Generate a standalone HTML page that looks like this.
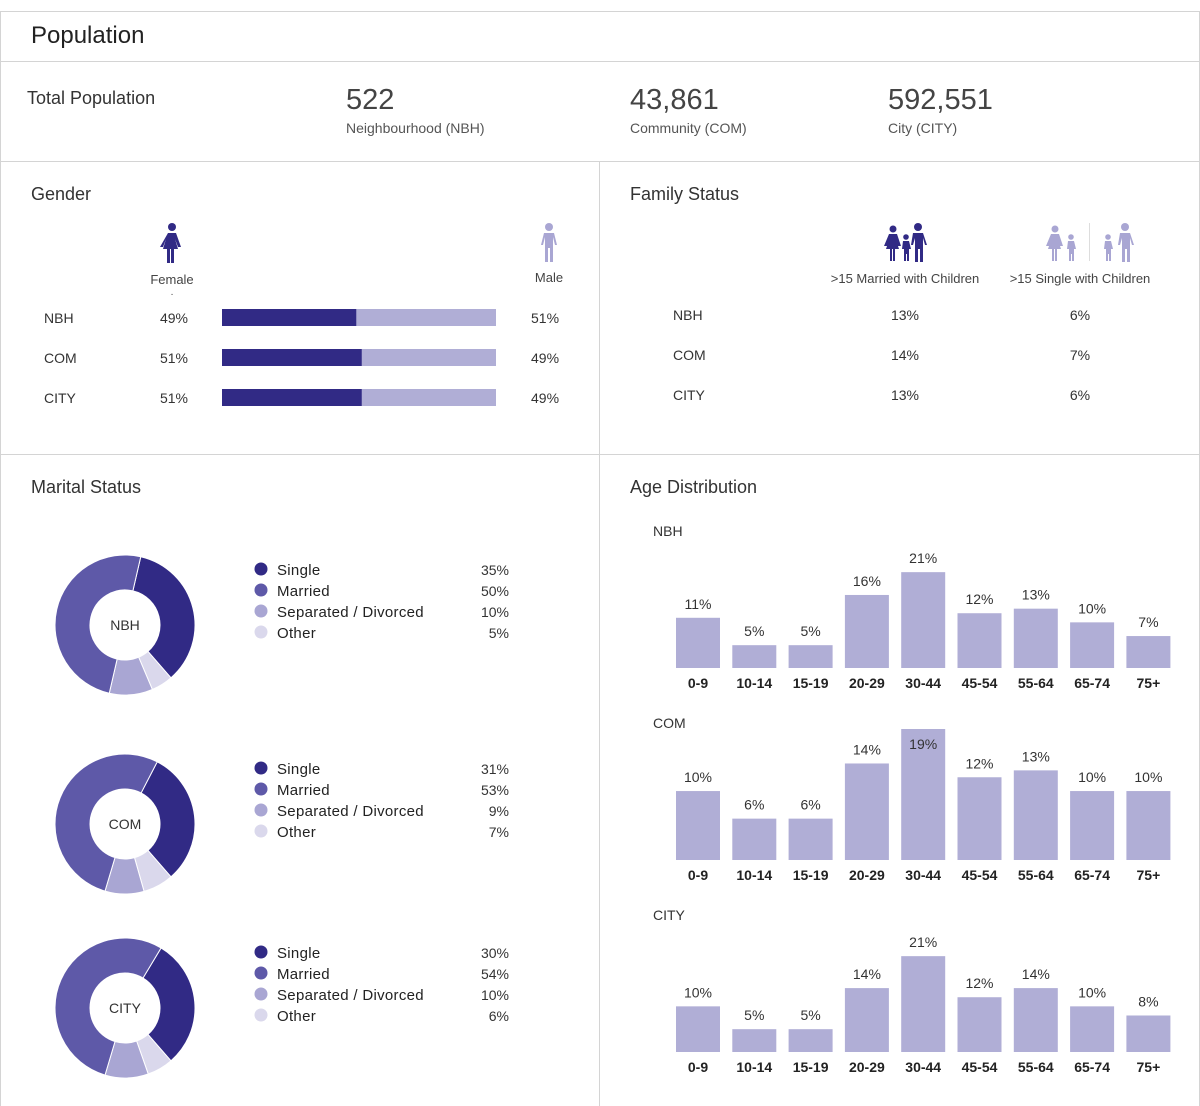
<!DOCTYPE html>
<html><head><meta charset="utf-8"><style>
body{margin:0;width:1200px;height:1106px;background:#fff;font-family:"Liberation Sans",sans-serif;color:#333;position:relative;overflow:hidden}
.abs{position:absolute}
.line{position:absolute;background:#d4d4d4}
.t{position:absolute;white-space:nowrap}
</style></head><body>
<div class="line" style="left:0;top:11px;width:1200px;height:1px"></div>
<div class="line" style="left:0;top:11px;width:1px;height:1095px"></div>
<div class="line" style="left:1199px;top:11px;width:1px;height:1095px"></div>
<div class="line" style="left:0;top:61px;width:1200px;height:1px"></div>
<div class="line" style="left:0;top:161px;width:1200px;height:1px"></div>
<div class="line" style="left:0;top:454px;width:1200px;height:1px"></div>
<div class="line" style="left:599px;top:161px;width:1px;height:945px"></div>

<div class="t" style="left:31px;top:22px;font-size:24px;color:#222">Population</div>
<div class="t" style="left:27px;top:88px;font-size:18px;color:#333">Total Population</div>
<div class="t" style="left:346px;top:84px;font-size:29px;color:#444">522</div>
<div class="t" style="left:346px;top:120px;font-size:14px;color:#555">Neighbourhood (NBH)</div>
<div class="t" style="left:630px;top:84px;font-size:29px;color:#444">43,861</div>
<div class="t" style="left:630px;top:120px;font-size:14px;color:#555">Community (COM)</div>
<div class="t" style="left:888px;top:84px;font-size:29px;color:#444">592,551</div>
<div class="t" style="left:888px;top:120px;font-size:14px;color:#555">City (CITY)</div>

<div class="t" style="left:31px;top:184px;font-size:18px">Gender</div>
<div class="t" style="left:630px;top:184px;font-size:18px">Family Status</div>
<div class="t" style="left:31px;top:477px;font-size:18px">Marital Status</div>
<div class="t" style="left:630px;top:477px;font-size:18px">Age Distribution</div>

<svg class="abs" style="left:0;top:0" width="1200" height="1106" id="svg" font-family="Liberation Sans, sans-serif">
  <!-- female icon -->
  <g fill="#312a85">
    <circle cx="172" cy="227" r="4"/>
    <path d="M168 233h8l5 14h-3l-3-8 3 10h-4v14h-3v-14h-1v14h-3v-14h-4l3-10-3 8h-3z"/>
  </g>
  <g fill="#a9a6d3">
    <circle cx="549" cy="227" r="4"/>
    <path d="M544 233h10l3 12h-2l-2-8v25h-3v-14h-2v14h-3v-25l-2 8h-2z"/>
  </g>
  <g fill="#312a85">
    <circle cx="893" cy="229" r="3.5"/><path d="M889 234h8l4 12h-3l-2-6 3 9h-4v12h-2v-12h-1v12h-2v-12h-4l3-9-2 6h-3z"/>
    <circle cx="906" cy="237" r="2.8"/><path d="M903 241h6l2 8h-2v12h-2v-7h-1v7h-2v-12h-2z"/>
    <circle cx="918" cy="227" r="4"/><path d="M913 233h10l4 12h-2l-2-7v24h-3v-13h-2v13h-3v-24l-2 7h-2z"/>
  </g>
  <g fill="#a9a6d3">
    <circle cx="1055" cy="229" r="3.5"/><path d="M1051 234h8l4 12h-3l-2-6 3 9h-4v12h-2v-12h-1v12h-2v-12h-4l3-9-2 6h-3z"/>
    <circle cx="1071" cy="237" r="2.8"/><path d="M1068 241h6l2 8h-2v12h-2v-7h-1v7h-2v-12h-2z"/>
    <rect x="1089" y="223" width="1" height="38" fill="#ddd"/>
    <circle cx="1108" cy="237" r="2.8"/><path d="M1105 241h6l2 8h-2v12h-2v-7h-1v7h-2v-12h-2z"/>
    <circle cx="1125" cy="227" r="4"/><path d="M1120 233h10l4 12h-2l-2-7v24h-3v-13h-2v13h-3v-24l-2 7h-2z"/>
  </g>
  <text x="172" y="284" font-size="13" text-anchor="middle" fill="#444">Female</text>
  <text x="172" y="297" font-size="10" text-anchor="middle" fill="#444">·</text>
  <text x="549" y="282" font-size="13" text-anchor="middle" fill="#444">Male</text>
  <text x="905" y="283" font-size="13" text-anchor="middle" fill="#444">&gt;15 Married with Children</text>
  <text x="1080" y="283" font-size="13" text-anchor="middle" fill="#444">&gt;15 Single with Children</text>
  <g id="gender"></g><g id="family"></g><g id="donuts"></g><g id="ages"></g>
</svg>
<script>
const regions=['NBH','COM','CITY'];
const femalePct=[49,51,51];
const malePct=[51,49,49];
const marriedKids=[13,14,13];
const singleKids=[6,7,6];
const maritalLabels=['Single','Married','Separated / Divorced','Other'];
const maritalNBH=[35,50,10,5];
const maritalCOM=[31,53,9,7];
const maritalCITY=[30,54,10,6];
const ageCats=['0-9','10-14','15-19','20-29','30-44','45-54','55-64','65-74','75+'];
const ageNBH=[11,5,5,16,21,12,13,10,7];
const ageCOM=[10,6,6,14,19,12,13,10,10];
const ageCITY=[10,5,5,14,21,12,14,10,8];

const NS='http://www.w3.org/2000/svg';
function mk(tag,attrs,parent,txt){const e=document.createElementNS(NS,tag);for(const k in attrs)e.setAttribute(k,attrs[k]);if(txt!==undefined)e.textContent=txt;parent.appendChild(e);return e;}
const C={dark:'#312a85',mar:'#5e59a8',sep:'#a9a6d3',oth:'#dad8ec',light:'#b0aed6'};

// gender
const g=document.getElementById('gender');
const bx=222,bw=274;
const bxScale=v=>v/100*bw;
regions.forEach((r,i)=>{
  const y=318+i*40;
  let e=mk('text',{x:44,y:y+5,'font-size':14,fill:'#333'},g,r);
  
  
  e=mk('text',{x:188,y:y+5,'font-size':14,'text-anchor':'end',fill:'#333'},g,femalePct[i]+'%');
  
  
  e=mk('rect',{x:bx,y:y-9,width:bw,height:17,fill:C.light},g);
  
  
  e=mk('rect',{x:bx,y:y-9,width:bxScale(femalePct[i]),height:17,fill:C.dark},g);
  
  
  e=mk('text',{x:531,y:y+5,'font-size':14,fill:'#333'},g,malePct[i]+'%');
  
  
});
// family
const f=document.getElementById('family');
regions.forEach((r,i)=>{
  const y=320+i*40;
  let e=mk('text',{x:673,y:y,'font-size':14,fill:'#333'},f,r);
  
  
  e=mk('text',{x:905,y:y,'font-size':14,'text-anchor':'middle',fill:'#333'},f,marriedKids[i]+'%');
  
  
  e=mk('text',{x:1080,y:y,'font-size':14,'text-anchor':'middle',fill:'#333'},f,singleKids[i]+'%');
  
  
});
// donuts
const d=document.getElementById('donuts');
const maritalData=[maritalNBH,maritalCOM,maritalCITY];
const donutY=[625,824,1008],legY=[570,769,953];
const legColors=[C.dark,C.mar,C.sep,C.oth];
function pt(cx,cy,r,a){const rad=(a-90)*Math.PI/180;return [cx+r*Math.cos(rad),cy+r*Math.sin(rad)];}
function arc(cx,cy,ro,ri,a0,a1){const la=(a1-a0)>180?1:0;const p1=pt(cx,cy,ro,a0),p2=pt(cx,cy,ro,a1),p3=pt(cx,cy,ri,a1),p4=pt(cx,cy,ri,a0);
return `M${p1}L${p1}A${ro},${ro} 0 ${la} 1 ${p2}L${p3}A${ri},${ri} 0 ${la} 0 ${p4}Z`;}
maritalData.forEach((vals,i)=>{
  const cx=125,cy=donutY[i];
  const tot=vals.reduce((a,b)=>a+b,0);
  // clockwise order: single, other, separated, married
  const order=[0,3,2,1];
  let a=139-vals[0]/tot*360;
  order.forEach(k=>{
    const sweep=vals[k]/tot*360;
    const p=mk('path',{d:arc(cx,cy,70,35,a,a+sweep),fill:legColors[k],stroke:'#fff','stroke-width':1},d);
    
    
    a+=sweep;
  });
  let e=mk('text',{x:cx,y:cy+5,'font-size':14,'text-anchor':'middle',fill:'#333'},d,regions[i]);
  
  
  maritalLabels.forEach((lab,k)=>{
    const y=legY[i]+k*21;
    let c=mk('circle',{cx:261,cy:y-1,r:6.5,fill:legColors[k]},d);
    
    
    let t=mk('text',{x:277,y:y+5,'font-size':15,fill:'#222','letter-spacing':'0.3'},d,lab);
    
    
    t=mk('text',{x:509,y:y+5,'font-size':14,'text-anchor':'end',fill:'#333'},d,vals[k]+'%');
    
    
  });
});
// ages
const ag=document.getElementById('ages');
const ageData=[ageNBH,ageCOM,ageCITY];
const baseY=[668,860,1052];
const domainMax=[28.7,19,28.7];
const plotH=131;
const xBand=i=>676+i*56.3;
ageData.forEach((vals,j)=>{
  const y0=baseY[j];
  const yS=v=>v/domainMax[j]*plotH;
  let e=mk('text',{x:653,y:y0-132,'font-size':14,fill:'#333'},ag,regions[j]);
  
  
  vals.forEach((v,i)=>{
    const h=yS(v),x=xBand(i);
    const r=mk('rect',{x:x,y:y0-h,width:44,height:h,fill:C.light},ag);
    
    
    const inside=h>plotH-15;
    const t=mk('text',{x:x+22,y:inside?y0-h+20:y0-h-9,'font-size':14,'text-anchor':'middle',fill:'#333'},ag,v+'%');
    
    
    const l=mk('text',{x:x+22,y:y0+20,'font-size':14,'font-weight':'bold','text-anchor':'middle',fill:'#222'},ag,ageCats[i]);
    
    
  });
});
</script>
</body></html>
